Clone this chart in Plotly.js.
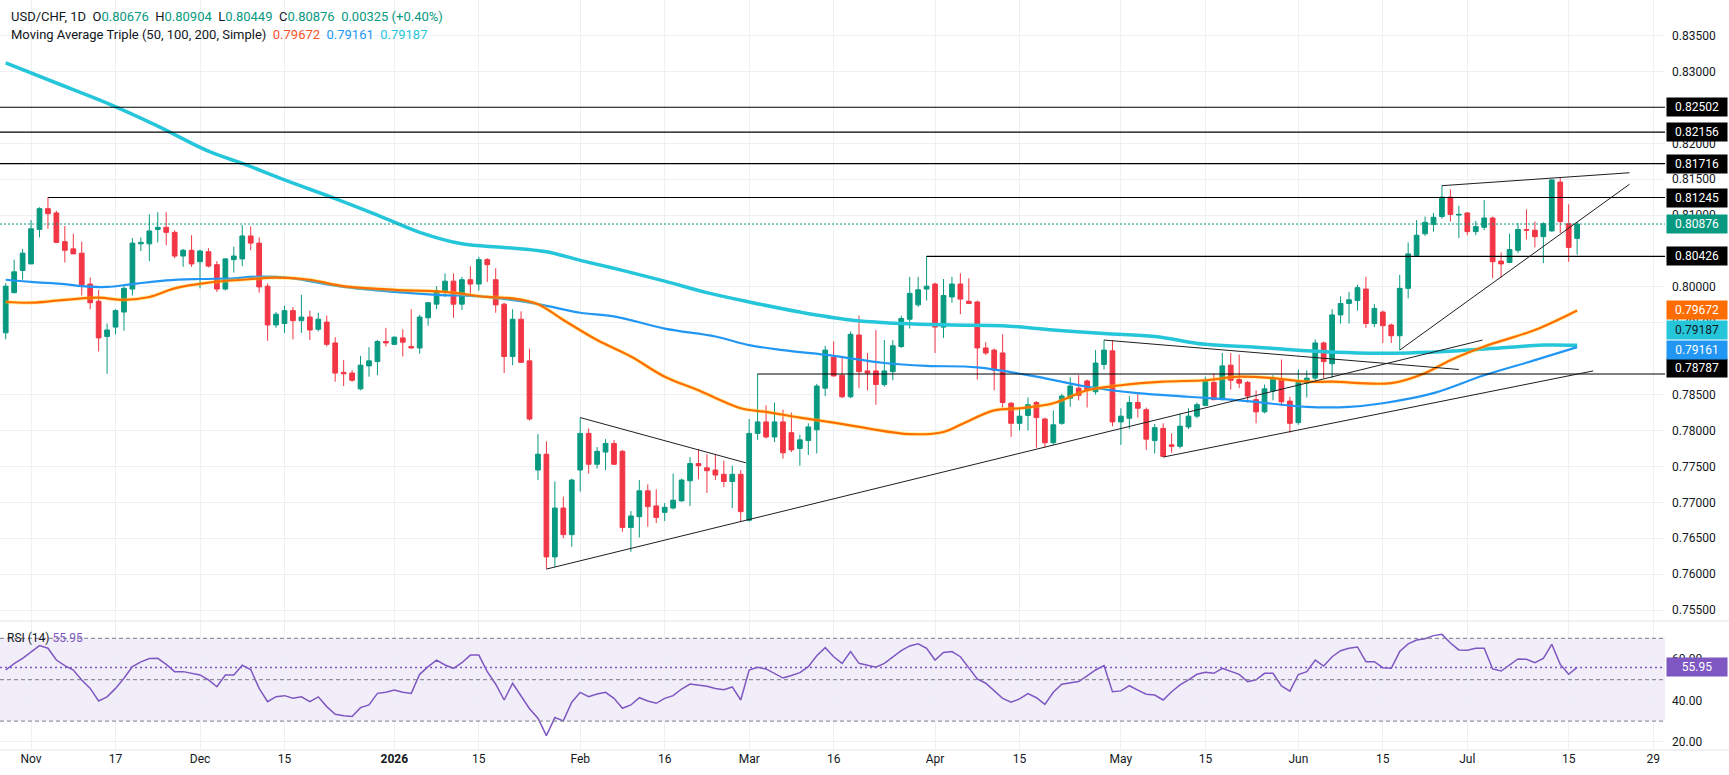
<!DOCTYPE html>
<html>
<head>
<meta charset="utf-8">
<script src="https://cdn.plot.ly/plotly-3.0.1.min.js"></script>
<style>
  html, body { margin: 0; padding: 0; background: #fff; }
  #chart { width: 1729px; height: 775px; }
</style>
</head>
<body>
<div id="chart"></div>
<script>
// USD/CHF daily candles, one per trading day (index 0 = first candle on the left)
const opens = [
  0.7936,0.7992,0.8023,0.8032,0.8080,0.8109,0.8103,0.8063,0.8053,0.8047,
  0.8004,0.7980,0.7931,0.7944,0.7965,0.7997,0.8060,0.8060,0.8080,0.8083,
  0.8076,0.8043,0.8051,0.8035,0.8049,0.8031,0.7997,0.8038,0.8039,0.8071,
  0.8061,0.8001,0.7947,0.7949,0.7967,0.7953,0.7958,0.7941,0.7951,0.7922,
  0.7881,0.7880,0.7858,0.7890,0.7896,0.7924,0.7920,0.7929,0.7917,0.7915,
  0.7957,0.7976,0.7994,0.8008,0.7976,0.8010,0.8004,0.8038,0.8010,0.7976,
  0.7903,0.7955,0.7897,0.7745,0.7767,0.7624,0.7692,0.7655,0.7745,0.7796,
  0.7753,0.7770,0.7782,0.7771,0.7665,0.7680,0.7716,0.7695,0.7686,0.7692,
  0.7702,0.7730,0.7754,0.7748,0.7745,0.7739,0.7729,0.7739,0.7675,0.7796,
  0.7812,0.7791,0.7812,0.7797,0.7775,0.7786,0.7801,0.7859,0.7902,0.7877,
  0.7847,0.7933,0.7883,0.7883,0.7864,0.7882,0.7917,0.7955,0.7975,0.7997,
  0.8004,0.7944,0.7986,0.8004,0.7980,0.7979,0.7915,0.7912,0.7908,0.7838,
  0.7810,0.7821,0.7839,0.7816,0.7783,0.7810,0.7845,0.7859,0.7869,0.7854,
  0.7892,0.7911,0.7812,0.7817,0.7839,0.7829,0.7786,0.7803,0.7780,0.7778,
  0.7805,0.7820,0.7835,0.7867,0.7843,0.7891,0.7871,0.7867,0.7843,0.7826,
  0.7855,0.7871,0.7841,0.7811,0.7866,0.7873,0.7922,0.7893,0.7961,0.7977,
  0.7981,0.7997,0.7949,0.7965,0.7947,0.7932,0.7998,0.8044,0.8074,0.8087,
  0.8098,0.8125,0.8100,0.8103,0.8077,0.8083,0.8096,0.8036,0.8034,0.8051,
  0.8080,0.8079,0.8070,0.8078,0.8146,0.8088,0.80676
];
const highs = [
  0.8005,0.8038,0.8053,0.8093,0.8111,0.8125,0.8106,0.8085,0.8074,0.8063,
  0.8013,0.7996,0.7949,0.7969,0.8001,0.8068,0.8069,0.8101,0.8104,0.8104,
  0.8079,0.8053,0.8072,0.8052,0.8054,0.8036,0.8040,0.8056,0.8086,0.8084,
  0.8069,0.8005,0.7965,0.7974,0.7972,0.7989,0.7967,0.7964,0.7960,0.7930,
  0.7898,0.7884,0.7904,0.7916,0.7926,0.7943,0.7931,0.7941,0.7969,0.7961,
  0.7979,0.8001,0.8019,0.8019,0.8014,0.8029,0.8042,0.8040,0.8026,0.7978,
  0.7969,0.7966,0.7914,0.7795,0.7785,0.7729,0.7708,0.7733,0.7818,0.7803,
  0.7777,0.7788,0.7787,0.7773,0.7688,0.7731,0.7725,0.7718,0.7699,0.7740,
  0.7733,0.7763,0.7774,0.7767,0.7767,0.7758,0.7751,0.7745,0.7816,0.7879,
  0.7835,0.7839,0.7829,0.7825,0.7794,0.7810,0.7865,0.7918,0.7924,0.7902,
  0.7938,0.7960,0.7908,0.7940,0.7926,0.7926,0.7960,0.8014,0.8014,0.8043,
  0.8006,0.8011,0.8014,0.8019,0.8012,0.7981,0.7923,0.7914,0.7934,0.7840,
  0.7832,0.7846,0.7841,0.7818,0.7828,0.7851,0.7874,0.7877,0.7871,0.7912,
  0.7926,0.7926,0.7831,0.7848,0.7851,0.7832,0.7809,0.7810,0.7796,0.7824,
  0.7831,0.7839,0.7875,0.7879,0.7908,0.7908,0.7906,0.7869,0.7856,0.7864,
  0.7877,0.7899,0.7847,0.7885,0.7884,0.7927,0.7924,0.7969,0.7987,0.7993,
  0.8003,0.8014,0.7976,0.7967,0.7949,0.8017,0.8062,0.8093,0.8098,0.8103,
  0.8141,0.8136,0.8113,0.8104,0.8092,0.8121,0.8098,0.8048,0.8074,0.8089,
  0.8108,0.8091,0.8090,0.8150,0.8153,0.8115,0.80904
];
const lows = [
  0.7927,0.7991,0.8010,0.8032,0.8069,0.8081,0.8061,0.8034,0.8046,0.7988,
  0.7969,0.7910,0.7879,0.7934,0.7939,0.7988,0.8050,0.8036,0.8062,0.8058,
  0.8040,0.8028,0.8028,0.7998,0.8027,0.7993,0.7995,0.8020,0.8029,0.8051,
  0.7992,0.7925,0.7943,0.7936,0.7927,0.7936,0.7926,0.7938,0.7917,0.7868,
  0.7862,0.7868,0.7856,0.7875,0.7877,0.7917,0.7919,0.7903,0.7914,0.7907,
  0.7946,0.7969,0.7986,0.7957,0.7968,0.7986,0.7995,0.8007,0.7964,0.7880,
  0.7891,0.7894,0.7814,0.7731,0.7607,0.7610,0.7650,0.7638,0.7715,0.7740,
  0.7747,0.7745,0.7752,0.7659,0.7631,0.7651,0.7666,0.7671,0.7674,0.7690,
  0.7701,0.7695,0.7732,0.7713,0.7731,0.7721,0.7692,0.7673,0.7673,0.7787,
  0.7789,0.7784,0.7761,0.7770,0.7751,0.7766,0.7768,0.7848,0.7875,0.7845,
  0.7845,0.7859,0.7856,0.7836,0.7861,0.7870,0.7915,0.7942,0.7972,0.7981,
  0.7908,0.7929,0.7978,0.7962,0.7976,0.7871,0.7905,0.7856,0.7832,0.7791,
  0.7800,0.7800,0.7776,0.7776,0.7780,0.7808,0.7833,0.7842,0.7832,0.7850,
  0.7885,0.7806,0.7780,0.7802,0.7818,0.7773,0.7768,0.7763,0.7769,0.7775,
  0.7802,0.7817,0.7834,0.7842,0.7842,0.7857,0.7859,0.7839,0.7810,0.7824,
  0.7842,0.7834,0.7797,0.7808,0.7846,0.7870,0.7873,0.7873,0.7949,0.7949,
  0.7967,0.7943,0.7944,0.7922,0.7922,0.7912,0.7984,0.8042,0.8071,0.8077,
  0.8095,0.8091,0.8068,0.8072,0.8072,0.8079,0.8012,0.8013,0.8033,0.8047,
  0.8066,0.8055,0.8033,0.8077,0.8075,0.8035,0.80449
];
const closes = [
  0.8001,0.8021,0.8047,0.8081,0.8109,0.8102,0.8062,0.8051,0.8046,0.8003,
  0.7978,0.7929,0.7940,0.7967,0.7998,0.8061,0.8062,0.8078,0.8083,0.8076,
  0.8043,0.8051,0.8032,0.8050,0.8029,0.7997,0.8039,0.8043,0.8071,0.8061,
  0.8000,0.7947,0.7962,0.7967,0.7953,0.7958,0.7940,0.7955,0.7920,0.7880,
  0.7879,0.7870,0.7891,0.7897,0.7924,0.7922,0.7930,0.7923,0.7915,0.7958,
  0.7978,0.7995,0.8008,0.7976,0.8010,0.8004,0.8038,0.8031,0.7975,0.7903,
  0.7955,0.7895,0.7816,0.7767,0.7624,0.7692,0.7655,0.7731,0.7796,0.7753,
  0.7771,0.7782,0.7753,0.7665,0.7681,0.7716,0.7694,0.7679,0.7693,0.7703,
  0.7731,0.7754,0.7751,0.7744,0.7738,0.7729,0.7739,0.7687,0.7796,0.7812,
  0.7791,0.7812,0.7769,0.7773,0.7787,0.7805,0.7862,0.7912,0.7876,0.7847,
  0.7934,0.7882,0.7880,0.7864,0.7883,0.7918,0.7956,0.7991,0.7996,0.8001,
  0.7944,0.7988,0.8004,0.7983,0.7977,0.7915,0.7908,0.7884,0.7839,0.7810,
  0.7820,0.7836,0.7818,0.7783,0.7808,0.7848,0.7862,0.7849,0.7856,0.7894,
  0.7912,0.7812,0.7820,0.7839,0.7831,0.7788,0.7804,0.7764,0.7778,0.7806,
  0.7820,0.7836,0.7870,0.7843,0.7890,0.7870,0.7866,0.7848,0.7826,0.7858,
  0.7872,0.7840,0.7810,0.7867,0.7873,0.7922,0.7896,0.7961,0.7977,0.7982,
  0.7999,0.7949,0.7970,0.7946,0.7932,0.7998,0.8046,0.8072,0.8090,0.8097,
  0.8125,0.8101,0.8101,0.8077,0.8084,0.8096,0.8035,0.8032,0.8052,0.8080,
  0.8079,0.8070,0.8088,0.8149,0.8091,0.8055,0.80876
];

// Simple moving averages at sample candles
const ma50Idx = [0,3,7,11,14,17,20,24,28,32,36,40,46,52,57,60,63,66,70,74,
  78,82,87,90,94,98,102,107,111,113,117,120,124,128,132,137,142,146,150,154,
  157,164,168,171,175,181,186];
const ma50 = [0.7979,0.7978,0.7982,0.7985,0.7982,0.7986,0.7998,0.8006,0.8010,0.8013,
  0.8010,0.8001,0.7996,0.7993,0.7986,0.7984,0.7976,0.7954,0.7926,0.7903,
  0.7875,0.7856,0.7831,0.7826,0.7818,0.7811,0.7803,0.7795,0.7798,0.7808,
  0.7828,0.7831,0.7838,0.7856,0.7863,0.7868,0.7870,0.7875,0.7873,0.7868,
  0.7868,0.7866,0.7880,0.7898,0.7917,0.7940,0.79672];
const ma100Idx = [0,3,7,9,12,15,19,23,27,29,32,34,40,46,51,57,63,68,72,78,
  84,88,92,98,104,109,115,122,128,134,140,146,154,159,163,169,175,181,186];
const ma100 = [0.8010,0.8007,0.8004,0.8001,0.8000,0.8004,0.8009,0.8011,0.8012,0.8014,
  0.8014,0.8012,0.8000,0.7993,0.7989,0.7986,0.7976,0.7964,0.7959,0.7942,
  0.7931,0.7919,0.7912,0.7904,0.7894,0.7890,0.7888,0.7875,0.7861,0.7852,
  0.7847,0.7842,0.7833,0.7833,0.7838,0.7852,0.7877,0.7898,0.79161];
const ma200Idx = [0,6,12,18,24,28,33,39,44,49,54,59,64,68,73,78,83,88,94,100,
  106,112,118,124,130,136,142,148,154,160,166,172,178,182,186];
const ma200 = [0.8312,0.8284,0.8256,0.8224,0.8189,0.8172,0.8149,0.8123,0.8100,0.8076,
  0.8060,0.8055,0.8049,0.8037,0.8023,0.8008,0.7992,0.7979,0.7965,0.7954,
  0.7949,0.7947,0.7946,0.7940,0.7935,0.7931,0.7920,0.7916,0.7911,0.7908,
  0.7908,0.7911,0.7916,0.7919,0.79187];

// RSI(14), one value per candle
const rsi = [
  54.7,57.8,60.3,63.6,66.5,65.2,59.5,56.8,54.7,49.9,
  45.8,39.7,41.7,45.8,50.7,56.3,58.6,60.2,60.3,57.4,
  53.9,53.9,53.1,52.3,49.9,46.6,52.3,52.3,57.0,54.9,
  45.8,39.4,41.8,42.3,41.0,41.7,39.4,41.7,37.0,33.3,
  32.6,32.2,36.5,37.8,43.4,43.9,45.0,43.9,43.4,52.6,
  56.3,59.5,57.1,55.5,58.2,61.9,61.9,53.9,47.8,40.2,
  48.3,42.3,36.0,31.4,23.0,31.7,30.1,39.1,43.9,41.8,
  43.1,43.9,41.0,36.2,37.8,41.3,39.7,38.6,41.0,42.3,
  45.5,47.9,47.5,46.8,45.8,45.2,46.5,40.2,54.7,56.0,
  55.2,53.1,50.8,52.0,53.4,56.3,61.6,65.5,61.1,57.9,
  63.6,57.9,57.1,56.0,57.9,60.8,64.0,66.3,67.3,65.2,
  59.5,63.2,63.6,61.1,55.5,50.4,48.3,44.6,41.0,39.1,
  40.7,43.3,41.3,38.1,43.9,47.8,48.6,49.1,51.8,54.7,
  56.8,44.2,44.6,47.1,45.0,43.0,42.6,40.2,44.2,47.5,
  49.9,52.6,53.6,53.1,55.5,53.9,52.6,49.1,49.9,53.1,
  53.1,47.0,44.5,52.5,53.9,59.5,56.6,61.1,64.0,65.2,
  65.8,58.7,58.7,55.8,55.5,63.6,67.3,69.2,69.8,71.3,
  71.9,67.7,64.4,64.2,65.2,65.2,55.2,54.2,57.1,60.0,
  59.9,58.2,60.3,67.1,57.4,52.6,55.95
];

// Horizontal levels drawn on the chart: [start candle, price]
const levels = [[-1, 0.82502], [-1, 0.82156], [-1, 0.81716], [5, 0.81245], [109, 0.80426], [89, 0.78787]];
// Trend lines: [candle0, price0, candle1, price1]
const trendLines = [
  [68, 0.7818, 87.6, 0.7755],
  [64, 0.7607, 174.8, 0.7926],
  [130, 0.7926, 172, 0.7885],
  [137, 0.7763, 187.9, 0.7883],
  [165, 0.7912, 192.2, 0.8143],
  [170, 0.8141, 192.2, 0.8159]
];

const dateTickIdx = [3,13,23,33,46,56,68,78,88,98,110,120,132,142,153,163,173,185,195];
const dateTickText = ['Nov','17','Dec','15','<b>2026</b>','15','Feb','16','Mar','16','Apr','15','May','15','Jun','15','Jul','15','29'];
// price scale labels that are not covered by the value tags
const priceTicks = [0.755,0.760,0.765,0.770,0.775,0.780,0.785,0.795,0.800,0.810,0.815,0.820,0.830,0.835];
const rsiTicks = [20, 40, 60];

const lastPrice = closes[closes.length - 1];
const lastRsi = rsi[rsi.length - 1];

const UP = '#089981', DOWN = '#f23645';
const C50 = '#ff6d00', C100 = '#2196f3', C200 = '#26c6da', CRSI = '#7e57c2';
const FONT = 'Roboto, "Open Sans", sans-serif';
const idx = opens.map((_, i) => i);
const xRange = [-0.675, 196.4];

const traces = [
  {
    type: 'candlestick', x: idx, open: opens, high: highs, low: lows, close: closes,
    increasing: { line: { color: UP, width: 1 }, fillcolor: UP },
    decreasing: { line: { color: DOWN, width: 1 }, fillcolor: DOWN },
    whiskerwidth: 0, hoverinfo: 'skip', xaxis: 'x', yaxis: 'y'
  },
  { type: 'scatter', mode: 'lines', x: ma200Idx, y: ma200, line: { color: C200, width: 3.5, shape: 'spline' }, hoverinfo: 'skip' },
  { type: 'scatter', mode: 'lines', x: ma100Idx, y: ma100, line: { color: C100, width: 2.2, shape: 'spline' }, hoverinfo: 'skip' },
  { type: 'scatter', mode: 'lines', x: ma50Idx, y: ma50, line: { color: 'rgba(255,214,0,0.35)', width: 4, shape: 'spline' }, hoverinfo: 'skip' },
  { type: 'scatter', mode: 'lines', x: ma50Idx, y: ma50, line: { color: C50, width: 2.2, shape: 'spline' }, hoverinfo: 'skip' },
  { type: 'scatter', mode: 'lines', x: idx, y: rsi, xaxis: 'x', yaxis: 'y2', line: { color: CRSI, width: 1.5 }, hoverinfo: 'skip' }
];

const shapes = [];
// RSI band and guides
shapes.push({ type: 'rect', xref: 'x', yref: 'y2', x0: xRange[0], x1: xRange[1], y0: 30, y1: 70,
  fillcolor: 'rgba(126,87,194,0.1)', line: { width: 0 }, layer: 'below' });
[70, 50, 30].forEach(v => shapes.push({ type: 'line', xref: 'x', yref: 'y2', x0: xRange[0], x1: xRange[1], y0: v, y1: v,
  line: { color: '#787b86', width: 1, dash: '4px,3px' } }));
shapes.push({ type: 'line', xref: 'x', yref: 'y2', x0: xRange[0], x1: xRange[1], y0: lastRsi, y1: lastRsi,
  line: { color: CRSI, width: 1.5, dash: '2px,3px' } });
// panel separators
shapes.push({ type: 'line', xref: 'paper', yref: 'paper', x0: 0, x1: 1.04, y0: 0.172, y1: 0.172, line: { color: '#e0e3eb', width: 1 } });
shapes.push({ type: 'line', xref: 'paper', yref: 'paper', x0: 0, x1: 1.04, y0: 0, y1: 0, line: { color: '#e0e3eb', width: 1 } });
// last price line
shapes.push({ type: 'line', xref: 'x', yref: 'y', x0: xRange[0], x1: xRange[1], y0: lastPrice, y1: lastPrice,
  line: { color: UP, width: 1, dash: '2px,2px' } });
levels.forEach(([i0, p]) => shapes.push({ type: 'line', xref: 'x', yref: 'y', x0: i0, x1: xRange[1], y0: p, y1: p,
  line: { color: '#000', width: 1.2 } }));
trendLines.forEach(([a, pa, b, pb]) => shapes.push({ type: 'line', xref: 'x', yref: 'y', x0: a, x1: b, y0: pa, y1: pb,
  line: { color: '#1e1e1e', width: 1 } }));

// price scale tags
function tag(val, bg, color, shift, yref, txt) {
  return { xref: 'paper', yref: yref || 'y', x: 1, y: val, xanchor: 'left', yanchor: 'middle', xshift: 1, yshift: shift || 0,
    text: txt || val.toFixed(5), showarrow: false, bgcolor: bg, width: 56, borderpad: 2,
    font: { family: FONT, size: 12, color: color } };
}
const annotations = [
  tag(0.82502, '#000', '#fff'), tag(0.82156, '#000', '#fff'), tag(0.81716, '#000', '#fff'),
  tag(0.81245, '#000', '#fff'), tag(0.80426, '#000', '#fff'), tag(0.78787, '#000', '#fff', 6.5),
  tag(lastPrice, UP, '#fff'), tag(0.79672, C50, '#fff'), tag(0.79187, C200, '#131722', 15),
  tag(0.79161, C100, '#fff', -3),
  tag(lastRsi, CRSI, '#fff', 0, 'y2', lastRsi.toFixed(2))
];
const g = s => `<span style="color:${UP}">${s}</span>`;
const sp = '\u00a0\u00a0';
annotations.push({
  xref: 'paper', yref: 'paper', x: 9 / 1665, y: 1 - 16.7 / 750, xanchor: 'left', yanchor: 'middle', showarrow: false,
  text: `USD/CHF, 1D${sp}O${g('0.80676')}${sp}H${g('0.80904')}${sp}L${g('0.80449')}${sp}C${g('0.80876')}${sp}${g('0.00325 (+0.40%)')}`,
  font: { family: FONT, size: 13, color: '#131722' }
});
annotations.push({
  xref: 'paper', yref: 'paper', x: 9 / 1665, y: 1 - 35 / 750, xanchor: 'left', yanchor: 'middle', showarrow: false,
  text: `Moving Average Triple (50, 100, 200, Simple)${sp}<span style="color:#f7522a">0.79672</span>${sp}<span style="color:${C100}">0.79161</span>${sp}<span style="color:${C200}">0.79187</span>`,
  font: { family: FONT, size: 13, color: '#131722' }
});
annotations.push({
  xref: 'paper', yref: 'paper', x: 5 / 1665, y: 1 - 638 / 750, xanchor: 'left', yanchor: 'middle', showarrow: false,
  text: `RSI (14)\u00a0<span style="color:${CRSI}">${lastRsi.toFixed(2)}</span>`,
  font: { family: FONT, size: 12, color: '#131722' }
});

const layout = {
  width: 1729, height: 775,
  margin: { l: 0, r: 64, t: 0, b: 25 },
  paper_bgcolor: '#fff', plot_bgcolor: '#fff',
  showlegend: false, dragmode: false, boxgap: 0.2,
  font: { family: FONT, size: 12, color: '#131722' },
  xaxis: {
    range: xRange, anchor: 'y2', tickvals: dateTickIdx, ticktext: dateTickText,
    showgrid: true, gridcolor: '#eef0f4', zeroline: false, showline: false, ticks: '',
    rangeslider: { visible: false }, tickfont: { family: FONT, size: 12, color: '#131722' }, fixedrange: true
  },
  yaxis: {
    domain: [0.172, 1], range: [0.75347, 0.83996], side: 'right', anchor: 'x',
    tickvals: priceTicks, ticktext: priceTicks.map(v => v.toFixed(5)),
    showgrid: true, gridcolor: '#eef0f4', zeroline: false, ticks: '', ticklabelstandoff: 6,
    tickfont: { family: FONT, size: 12, color: '#131722' }, fixedrange: true
  },
  yaxis2: {
    domain: [0, 0.172], range: [16.04, 78.36], side: 'right', anchor: 'x',
    tickvals: rsiTicks, ticktext: rsiTicks.map(v => v.toFixed(2)),
    showgrid: true, gridcolor: '#eef0f4', zeroline: false, ticks: '', ticklabelstandoff: 6,
    tickfont: { family: FONT, size: 12, color: '#131722' }, fixedrange: true
  },
  shapes: shapes,
  annotations: annotations
};

Plotly.newPlot('chart', traces, layout, { displayModeBar: false, staticPlot: true });
</script>
</body>
</html>
